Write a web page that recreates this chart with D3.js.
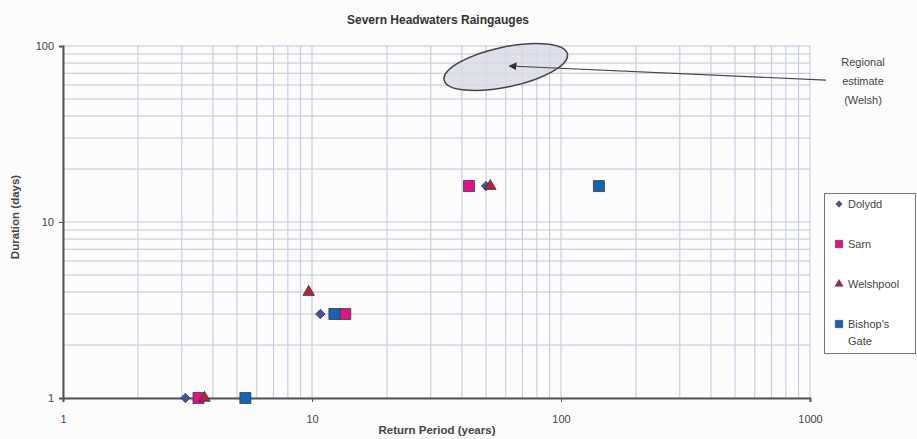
<!DOCTYPE html>
<html>
<head>
<meta charset="utf-8">
<script src="https://cdn.jsdelivr.net/npm/d3@7"></script>
<style>
  body { margin: 0; background: #fcfcfc; }
  svg { font-family: "Liberation Sans", Arial, sans-serif; }
</style>
</head>
<body>
<div id="chart"></div>
<script>
// data
var seriesNames = ["Dolydd", "Sarn", "Welshpool", "Bishop's Gate"];
var dolyddReturn = [3.1, 10.8, 50];
var dolyddDuration = [1, 3, 16];
var sarnReturn = [3.5, 13.6, 42.7];
var sarnDuration = [1, 3, 16];
var welshpoolReturn = [3.7, 9.7, 52];
var welshpoolDuration = [1, 4, 16];
var bishopsReturn = [5.4, 12.3, 142];
var bishopsDuration = [1, 3, 16];
var xTicks = [1, 10, 100, 1000];
var yTicks = [1, 10, 100];
// regional estimate ellipse centre and arrow (data units)
var regionCentre = [60, 76];
var arrowFrom = [1160, 64];
var arrowTo = [62, 77];

var svgWidth = 917;
var svgHeight = 439;

var svg = d3.select("#chart")
    .append("svg")
    .attr("width", svgWidth)
    .attr("height", svgHeight);

var xScale = d3.scaleLog().domain([1, 1000]).range([63, 810]);
var yScale = d3.scaleLog().domain([1, 100]).range([398, 46]);

// gridlines
var grid = svg.append("g");
grid.selectAll(".vg")
    .data(xScale.ticks())
    .enter()
    .append("line")
    .attr("x1", function (d) { return xScale(d); })
    .attr("x2", function (d) { return xScale(d); })
    .attr("y1", yScale(1))
    .attr("y2", yScale(100))
    .attr("stroke", "#bfc5db")
    .attr("stroke-width", 1);
grid.selectAll(".hg")
    .data(yScale.ticks())
    .enter()
    .append("line")
    .attr("x1", xScale(1))
    .attr("x2", xScale(1000))
    .attr("y1", function (d) { return yScale(d); })
    .attr("y2", function (d) { return yScale(d); })
    .attr("stroke", "#bfc5db")
    .attr("stroke-width", 1);

// axes
var bottomAxis = d3.axisBottom(xScale).tickValues(xTicks).tickFormat(d3.format("d"))
    .tickSize(4).tickPadding(13);
var leftAxis = d3.axisLeft(yScale).tickValues(yTicks).tickFormat(d3.format("d"))
    .tickSize(4).tickPadding(5);

var gx = svg.append("g")
    .attr("transform", "translate(0," + yScale(1) + ")")
    .call(bottomAxis);
var gy = svg.append("g")
    .attr("transform", "translate(" + xScale(1) + ",0)")
    .call(leftAxis);

[gx, gy].forEach(function (g) {
    g.select(".domain").attr("stroke", "#555").attr("stroke-width", 2);
    g.selectAll(".tick line").attr("stroke", "#555");
    g.selectAll(".tick text").attr("fill", "#444").attr("font-size", "11px");
});

// titles
svg.append("text")
    .attr("x", 438)
    .attr("y", 24)
    .attr("text-anchor", "middle")
    .attr("font-size", "12px")
    .attr("font-weight", "bold")
    .attr("fill", "#333")
    .text("Severn Headwaters Raingauges");

svg.append("text")
    .attr("transform", "translate(19,217) rotate(-90)")
    .attr("text-anchor", "middle")
    .attr("font-size", "11.5px")
    .attr("font-weight", "bold")
    .attr("fill", "#444")
    .text("Duration (days)");

svg.append("text")
    .attr("x", 437)
    .attr("y", 434)
    .attr("text-anchor", "middle")
    .attr("font-size", "11.5px")
    .attr("font-weight", "bold")
    .attr("fill", "#444")
    .text("Return Period (years)");

// regional estimate annotation
svg.append("ellipse")
    .attr("cx", xScale(regionCentre[0]))
    .attr("cy", yScale(regionCentre[1]))
    .attr("rx", 63)
    .attr("ry", 20)
    .attr("transform", "rotate(-12," + xScale(regionCentre[0]) + "," + yScale(regionCentre[1]) + ")")
    .attr("fill", "#d9dbe6")
    .attr("fill-opacity", 0.85)
    .attr("stroke", "#444")
    .attr("stroke-width", 1.5);

svg.append("defs").append("marker")
    .attr("id", "arrow")
    .attr("viewBox", "0 0 10 10")
    .attr("refX", 9)
    .attr("refY", 5)
    .attr("markerWidth", 8)
    .attr("markerHeight", 8)
    .attr("markerUnits", "userSpaceOnUse")
    .attr("orient", "auto")
    .append("path")
    .attr("d", "M0,0 L10,5 L0,10 z")
    .attr("fill", "#333");

svg.append("line")
    .attr("x1", xScale(arrowFrom[0]))
    .attr("y1", yScale(arrowFrom[1]))
    .attr("x2", xScale(arrowTo[0]))
    .attr("y2", yScale(arrowTo[1]))
    .attr("stroke", "#444")
    .attr("stroke-width", 1.2)
    .attr("marker-end", "url(#arrow)");

var note = svg.append("text")
    .attr("text-anchor", "middle")
    .attr("font-size", "11px")
    .attr("fill", "#444");
["Regional", "estimate", "(Welsh)"].forEach(function (t, i) {
    note.append("tspan").attr("x", 863).attr("y", 66 + i * 19).text(t);
});

// series; the diamond is a square turned 45 degrees
var series = [
    { name: seriesNames[0], xs: dolyddReturn, ys: dolyddDuration, symbol: d3.symbolSquare, size: 44, rot: 45, color: "#3d55a3" },
    { name: seriesNames[1], xs: sarnReturn, ys: sarnDuration, symbol: d3.symbolSquare, size: 121, rot: 0, color: "#e0138a" },
    { name: seriesNames[2], xs: welshpoolReturn, ys: welshpoolDuration, symbol: d3.symbolTriangle, size: 58, rot: 0, color: "#b3213f" },
    { name: seriesNames[3], xs: bishopsReturn, ys: bishopsDuration, symbol: d3.symbolSquare, size: 121, rot: 0, color: "#1663b5" }
];

series.forEach(function (s) {
    var pts = s.xs.map(function (v, i) { return { x: v, y: s.ys[i] }; });
    svg.append("g").selectAll("path")
        .data(pts)
        .enter()
        .append("path")
        .attr("d", d3.symbol().type(s.symbol).size(s.size))
        .attr("transform", function (d) {
            return "translate(" + xScale(d.x) + "," + yScale(d.y) + ") rotate(" + s.rot + ")";
        })
        .attr("fill", s.color)
        .attr("stroke", "#3a3a3a")
        .attr("stroke-width", 0.8);
});

// legend
var legend = svg.append("g");
legend.append("rect")
    .attr("x", 824.5)
    .attr("y", 193.5)
    .attr("width", 91)
    .attr("height", 160)
    .attr("fill", "#fff")
    .attr("stroke", "#777");

series.forEach(function (s, i) {
    var ly = 204 + i * 40;
    legend.append("path")
        .attr("d", d3.symbol().type(s.symbol).size(s.size * 0.45))
        .attr("transform", "translate(839," + ly + ") rotate(" + s.rot + ")")
        .attr("fill", s.color)
        .attr("stroke", "#3a3a3a")
        .attr("stroke-width", 0.6);
    var words = s.name === "Bishop's Gate" ? ["Bishop's", "Gate"] : [s.name];
    var t = legend.append("text")
        .attr("font-size", "11px")
        .attr("fill", "#444");
    words.forEach(function (w, j) {
        t.append("tspan")
            .attr("x", 848)
            .attr("y", ly + 4 + j * 17)
            .text(w);
    });
});
</script>
</body>
</html>
